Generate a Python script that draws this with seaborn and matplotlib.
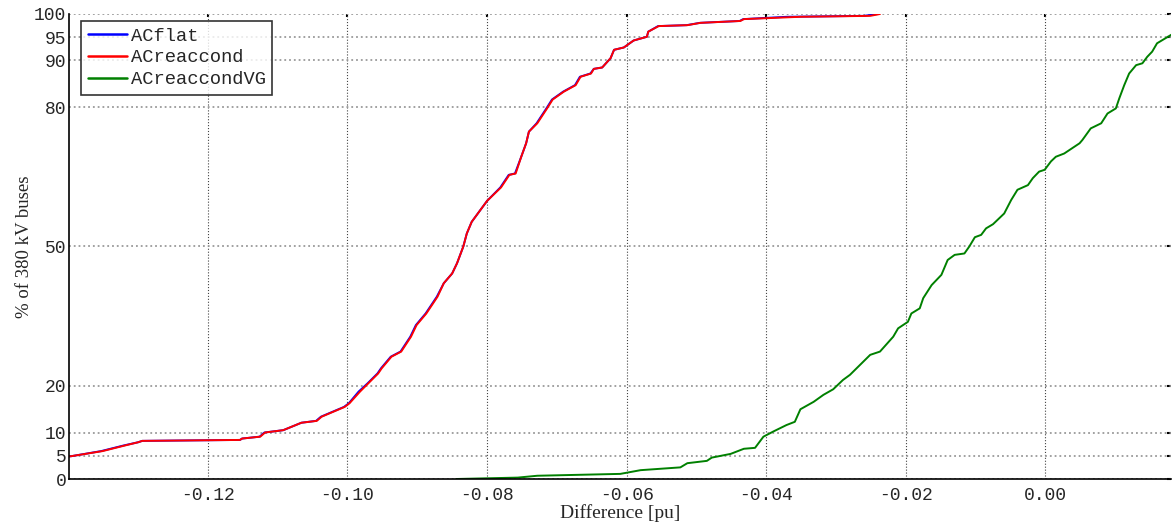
import matplotlib
matplotlib.use('Agg')
import matplotlib.pyplot as plt
import seaborn as sns
import pandas as pd

# ECDF points: difference [pu] vs % of 380 kV buses
red_x = [-0.1405, -0.1396, -0.1351, -0.1319, -0.1300, -0.1294, -0.1154, -0.1151, -0.1125, -0.1118,
         -0.1092, -0.1066, -0.1044, -0.1037, -0.1004, -0.0997, -0.0982, -0.0970, -0.0956, -0.0951,
         -0.0937, -0.0923, -0.0909, -0.0901, -0.0887, -0.0871, -0.0862, -0.0850, -0.0843, -0.0834,
         -0.0829, -0.0822, -0.0800, -0.0780, -0.0768, -0.0759, -0.0751, -0.0744, -0.0740, -0.0728,
         -0.0714, -0.0706, -0.0690, -0.0673, -0.0666, -0.0651, -0.0647, -0.0635, -0.0623, -0.0618,
         -0.0604, -0.0590, -0.0571, -0.0569, -0.0554, -0.0513, -0.0494, -0.0437, -0.0432, -0.0351,
         -0.0251, -0.0237]
red_y = [4.8, 4.9, 6.0, 7.2, 7.9, 8.2, 8.4, 8.7, 9.1, 10.0,
         10.5, 12.1, 12.5, 13.4, 15.5, 16.3, 18.8, 20.6, 22.7, 23.8,
         26.3, 27.4, 30.6, 33.1, 35.6, 39.2, 42.1, 44.2, 46.4, 50.0,
         52.8, 55.3, 59.8, 62.7, 65.4, 65.7, 69.3, 72.2, 74.7, 76.5,
         79.7, 81.6, 83.3, 84.7, 86.5, 87.2, 88.2, 88.5, 90.5, 92.3,
         92.8, 94.3, 95.1, 96.2, 97.4, 97.6, 98.1, 98.5, 98.9, 99.4,
         99.6, 100.0]

blue_x = [-0.1405, -0.1396, -0.1353, -0.1321, -0.1300, -0.1294, -0.1154, -0.1151, -0.1126, -0.1119,
          -0.1092, -0.1066, -0.1045, -0.1038, -0.1005, -0.0998, -0.0984, -0.0971, -0.0957, -0.0952,
          -0.0938, -0.0924, -0.0910, -0.0902, -0.0888, -0.0872, -0.0862, -0.0850, -0.0843, -0.0834,
          -0.0829, -0.0822, -0.0800, -0.0781, -0.0769, -0.0760, -0.0751, -0.0744, -0.0740, -0.0729,
          -0.0715, -0.0707, -0.0691, -0.0674, -0.0667, -0.0652, -0.0647, -0.0635, -0.0623, -0.0618,
          -0.0604, -0.0590, -0.0571, -0.0569, -0.0555, -0.0514, -0.0495, -0.0438, -0.0433, -0.0370,
          -0.0260, -0.0240]
blue_y = red_y

green_x = [-0.0844, -0.0756, -0.0728, -0.0609, -0.0580, -0.0523, -0.0513, -0.0485, -0.0478, -0.0451,
           -0.0432, -0.0416, -0.0404, -0.0390, -0.0371, -0.0359, -0.0351, -0.0332, -0.0318, -0.0304,
           -0.0290, -0.0280, -0.0251, -0.0237, -0.0218, -0.0211, -0.0197, -0.0192, -0.0180, -0.0175,
           -0.0163, -0.0149, -0.0140, -0.0130, -0.0116, -0.0109, -0.0101, -0.0092, -0.0085, -0.0075,
           -0.0059, -0.0049, -0.0040, -0.0025, -0.0018, -0.0009, -0.0001, 0.0008, 0.0015, 0.0027,
           0.0049, 0.0053, 0.0065, 0.0080, 0.0089, 0.0101, 0.0106, 0.0113, 0.0120, 0.0130,
           0.0139, 0.0146, 0.0153, 0.0160, 0.0170, 0.0180, 0.0190]
green_y = [0.0, 0.3, 0.7, 1.1, 1.9, 2.5, 3.4, 3.9, 4.6, 5.4,
           6.5, 6.7, 9.1, 10.2, 11.6, 12.3, 15.0, 16.6, 18.1, 19.3,
           21.3, 22.4, 26.7, 27.4, 30.6, 32.4, 33.8, 35.6, 36.7, 38.9,
           41.7, 43.9, 47.1, 48.2, 48.5, 50.0, 52.0, 52.5, 53.9, 54.8,
           57.1, 60.0, 62.2, 63.2, 64.7, 66.1, 66.5, 68.3, 69.3, 70.0,
           72.2, 72.9, 75.4, 76.5, 78.6, 79.7, 81.9, 84.7, 87.2, 89.0,
           89.4, 90.8, 91.9, 93.7, 94.6, 95.5, 96.3]

series_names = ['ACflat', 'ACreaccond', 'ACreaccondVG']
series_colors = ['#0000ff', '#ff0000', '#008000']

x_ticks = [-0.12, -0.10, -0.08, -0.06, -0.04, -0.02, 0.00]
y_ticks = [0, 5, 10, 20, 50, 80, 90, 95, 100]

df = pd.concat([
    pd.DataFrame({'x': blue_x, 'y': blue_y, 'case': series_names[0]}),
    pd.DataFrame({'x': red_x, 'y': red_y, 'case': series_names[1]}),
    pd.DataFrame({'x': green_x, 'y': green_y, 'case': series_names[2]}),
])

sns.set_style('white')
mono = 'Liberation Mono'
serif = 'Liberation Serif'

fig = plt.figure(figsize=(11.72, 5.26), dpi=100)
ax = fig.add_axes([69 / 1172, 1 - 479 / 526, 1 - 69 / 1172 - 1 / 1172, (479 - 14) / 526])

sns.lineplot(data=df, x='x', y='y', hue='case', palette=dict(zip(series_names, series_colors)),
             sort=False, estimator=None, linewidth=1.4, ax=ax)

ax.set_xlim(-0.1399, 0.0180)
ax.set_ylim(0, 100)
ax.set_xticks(x_ticks)
ax.set_xticklabels([f'{v:.2f}' for v in x_ticks], fontfamily=mono, fontsize=13)
ax.set_yticks(y_ticks)
ax.set_yticklabels([str(v) for v in y_ticks], fontfamily=mono, fontsize=13)
ax.tick_params(direction='in', length=8, width=1, color='black')
ax.tick_params(axis='x', pad=6)
ax.tick_params(axis='y', pad=2)

ax.yaxis.grid(True, color='#9a9a9a', linestyle=':', linewidth=1.3)
ax.xaxis.grid(True, color='#444444', linestyle=':', linewidth=0.8)
for side in ['top', 'right']:
    ax.spines[side].set_visible(False)
for side in ['left', 'bottom']:
    ax.spines[side].set_color('black')
    ax.spines[side].set_linewidth(1.2)

# short tick marks on the top and right edges
top = ax.secondary_xaxis('top')
top.set_xticks(x_ticks)
top.set_xticklabels([])
top.tick_params(direction='in', length=2, width=1.5, color='black')
top.spines['top'].set_visible(False)
right = ax.secondary_yaxis('right')
right.set_yticks(y_ticks)
right.set_yticklabels([])
right.tick_params(direction='in', length=3, width=1.5, color='black')
right.spines['right'].set_visible(False)

ax.set_xlabel('Difference [pu]', fontfamily=serif, fontsize=14, labelpad=0)
ax.set_ylabel('% of 380 kV buses', fontfamily=serif, fontsize=13.5, labelpad=1)

leg = ax.legend(loc='upper left', bbox_to_anchor=((81 - 69) / 1103, 1 - (21 - 14) / 465),
                prop={'family': mono, 'size': 13.5}, frameon=True, fancybox=False,
                handlelength=2.1, handletextpad=0.2, labelspacing=0.25, borderpad=0.35,
                borderaxespad=0)
leg.get_frame().set_edgecolor('black')
leg.get_frame().set_linewidth(1.2)
for line in leg.get_lines():
    line.set_linewidth(1.8)

fig.savefig('out.png', dpi=100)
